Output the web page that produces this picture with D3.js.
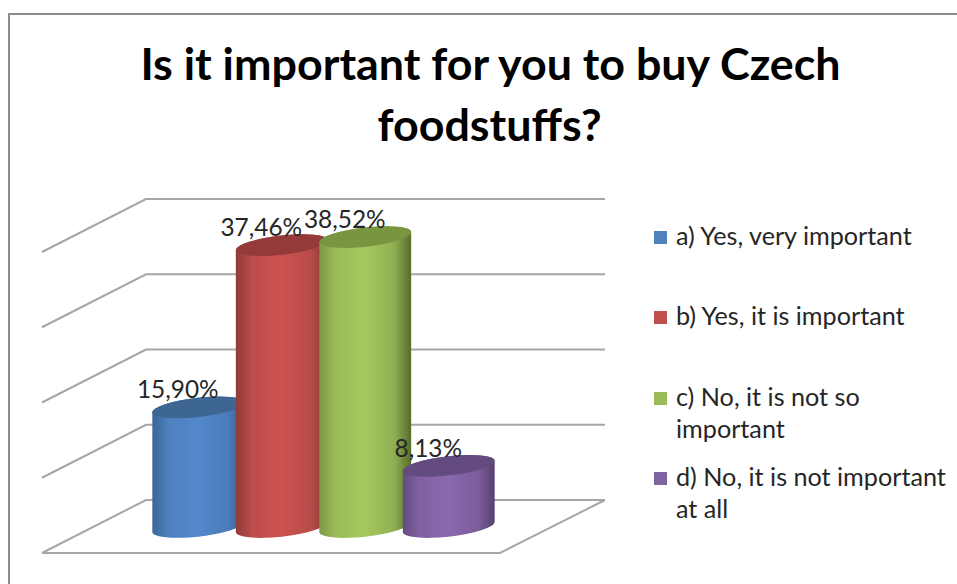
<!DOCTYPE html>
<html>
<head>
<meta charset="utf-8">
<script src="https://cdn.jsdelivr.net/npm/d3@7"></script>
<style>
html, body { margin: 0; padding: 0; background: #fff; }
svg { display: block; }
text { font-family: Lato, "Open Sans", sans-serif; }
</style>
</head>
<body>
<script>
// Survey answers and their shares, in percent.
const answers = ["a) Yes, very important", "b) Yes, it is important", "c) No, it is not so important", "d) No, it is not important at all"];
const shares = [15.90, 37.46, 38.52, 8.13];
const shareLabels = ["15,90%", "37,46%", "38,52%", "8,13%"];
const gridValues = [0, 10, 20, 30, 40];
const titleLines = ["Is it important for you to buy Czech", "foodstuffs?"];
const legendLines = [["a) Yes, very important"], ["b) Yes, it is important"], ["c) No, it is not so", "important"], ["d) No, it is not important", "at all"]];
const legendRows = [237, 317, 398, 478];

// Per-answer colours: centre of the cylinder wall, its shaded edges, and the top cap.
const wallLight = ["#5388cb", "#cb5350", "#a5c85f", "#8a68ad"];
const wallLeft = ["#3c6797", "#8f3b39", "#7c9843", "#644b80"];
const wallRight = ["#375e8c", "#843634", "#566c2c", "#57416f"];
const capFill = ["#3e6694", "#943a38", "#7a9540", "#634a7f"];
const legendFill = ["#4f81bd", "#c0504d", "#9bbb59", "#8064a2"];

const width = 957, height = 584;

// Oblique projection of the plot box: the back wall is offset from the front plane.
const depthX = 104, depthY = 53;
const backLeft = 146, backRight = 605;
const y = d3.scaleLinear().domain([0, 40]).range([500, 199]);
const x = d3.scaleBand().domain(answers).range([156.5, 490.5]).padding(0);
const barBaseShift = 27;
const tilt = -6.5 * Math.PI / 180;
const capRx = 46.2, capRy = 9.6;

const svg = d3.select("body").append("svg").attr("width", width).attr("height", height);

// Chart frame, open on the right and at the bottom of the page.
svg.append("path")
  .attr("d", d3.line()([[9, height], [9, 14], [width, 14]]))
  .attr("fill", "none").attr("stroke", "#8c8c8c").attr("stroke-width", 2);

// Title
svg.append("g").selectAll("text").data(titleLines).join("text")
  .attr("x", (d, i) => 490.5 - i).attr("y", (d, i) => 80 + i * 61)
  .attr("text-anchor", "middle")
  .attr("font-size", 44.8).attr("font-weight", 700).attr("fill", "#000")
  .text(d => d);

// Gridlines: along the back wall and down the left side wall.
const grid = svg.append("g").attr("fill", "none").attr("stroke", "#a6a6a6").attr("stroke-width", 2);
grid.selectAll("path").data(gridValues).join("path")
  .attr("d", v => d3.line()([[backLeft - depthX, y(v) + depthY], [backLeft, y(v)], [backRight, y(v)]]));

// Floor outline in front.
grid.append("path")
  .attr("d", d3.line()([[backLeft - depthX, y(0) + depthY], [backRight - depthX - 1, y(0) + depthY], [backRight, y(0)]]));

// One horizontal gradient per cylinder wall, with a broad lit band across the middle.
const defs = svg.append("defs");
answers.forEach((a, i) => {
  const g = defs.append("linearGradient").attr("id", "wall" + i);
  const leftMix = d3.interpolateRgb(wallLeft[i], wallLight[i]);
  const rightMix = d3.interpolateRgb(wallRight[i], wallLight[i]);
  g.append("stop").attr("offset", "0%").attr("stop-color", wallLeft[i]);
  g.append("stop").attr("offset", "18%").attr("stop-color", leftMix(0.75));
  g.append("stop").attr("offset", "50%").attr("stop-color", wallLight[i]);
  g.append("stop").attr("offset", "82%").attr("stop-color", rightMix(0.72));
  g.append("stop").attr("offset", "100%").attr("stop-color", wallRight[i]);
});

// Where a tilted ellipse reaches its leftmost and rightmost points.
const tExtreme = Math.atan2(-capRy * Math.sin(tilt), capRx * Math.cos(tilt));
const edgeX = capRx * Math.cos(tExtreme) * Math.cos(tilt) - capRy * Math.sin(tExtreme) * Math.sin(tilt);
const edgeY = capRx * Math.cos(tExtreme) * Math.sin(tilt) + capRy * Math.sin(tExtreme) * Math.cos(tilt);
const tiltDeg = tilt * 180 / Math.PI;

const bars = svg.append("g").selectAll("g").data(answers).join("g");

bars.append("path")
  .attr("fill", (d, i) => `url(#wall${i})`)
  .attr("d", (d, i) => {
    const cx = x(d) + x.bandwidth() / 2;
    const top = y(shares[i]) + barBaseShift, base = y(0) + barBaseShift;
    return `M${cx - edgeX},${top - edgeY}L${cx - edgeX},${base - edgeY}` +
      `A${capRx},${capRy} ${tiltDeg} 0 0 ${cx + edgeX},${base + edgeY}` +
      `L${cx + edgeX},${top + edgeY}` +
      `A${capRx},${capRy} ${tiltDeg} 0 0 ${cx - edgeX},${top - edgeY}Z`;
  });

bars.append("ellipse")
  .attr("rx", capRx).attr("ry", capRy)
  .attr("fill", (d, i) => capFill[i])
  .attr("transform", (d, i) => `translate(${x(d) + x.bandwidth() / 2},${y(shares[i]) + barBaseShift}) rotate(${tiltDeg})`);

// Value labels sit above each cylinder, shifted towards its left side.
svg.append("g").selectAll("text").data(answers).join("text")
  .attr("x", d => x(d) + x.bandwidth() / 2 - 20.5)
  .attr("y", (d, i) => y(shares[i]) + barBaseShift - 9)
  .attr("text-anchor", "middle")
  .attr("font-size", 24.4).attr("fill", "#262626")
  .text((d, i) => shareLabels[i]);

// Legend
const legend = svg.append("g").selectAll("g").data(answers).join("g")
  .attr("transform", (d, i) => `translate(654,${legendRows[i]})`);
legend.append("rect")
  .attr("y", -6).attr("width", 13).attr("height", 13)
  .attr("fill", (d, i) => legendFill[i]);
legend.selectAll("text").data((d, i) => legendLines[i]).join("text")
  .attr("x", 22).attr("y", (d, i) => 8 + i * 32)
  .attr("font-size", 25.2).attr("fill", "#262626")
  .text(d => d);
</script>
</body>
</html>
